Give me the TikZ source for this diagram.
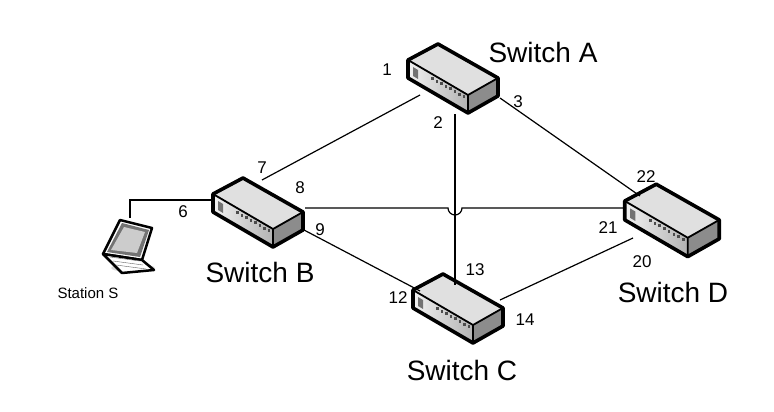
\documentclass[tikz,border=0pt]{standalone}
\usepackage{fontspec}
\setmainfont{Liberation Sans}
\begin{document}
\begin{tikzpicture}[x=1pt,y=-1pt,
  lbl/.style={font=\fontsize{28}{28}\selectfont},
  num/.style={font=\fontsize{17}{17}\selectfont},
  link/.style={line width=1.2pt},
  pics/switch/.style={code={
    \fill[white!88!black] (-45,-20)--(-15,-36)--(45,-2)--(15,15)--cycle;
    \shade[left color=white!95!black,right color=white!70!black] (-45,-20)--(15,15)--(15,33)--(-45,-2)--cycle;
    \fill[white!55!black] (15,15)--(45,-2)--(45,16)--(15,33)--cycle;
    \fill[white!45!black] (-40,-13)--(-35,-10)--(-35,-1)--(-40,-4)--cycle;
    \foreach \i in {0,...,7}{\fill[black!70] (-22+4.5*\i,-3+2.6*\i) rectangle ++(2.5,3);}
    \draw[line width=3.6pt,line join=round] (-45,-20)--(-15,-36)--(45,-2)--(45,16)--(15,33)--(-45,-2)--cycle;
    \draw[line width=1.8pt,line join=round] (-45,-20)--(15,15)--(45,-2) (15,15)--(15,33);
  }}]
\useasboundingbox (0,0) rectangle (774,412);
\pic (swA) at (453,80) {switch};
\pic (swB) at (258,214) {switch};
\pic (swC) at (458,310) {switch};
\pic[scale=1.05] (swD) at (672,222) {switch};
\coordinate (a1) at (420,95); \coordinate (a2) at (455,114); \coordinate (a3) at (500,98);
\coordinate (b7) at (262,180); \coordinate (b8) at (305,208); \coordinate (b9) at (304,230); \coordinate (b6) at (211,200);
\coordinate (c13) at (455,285); \coordinate (c12) at (420,291); \coordinate (c14) at (500,300);
\coordinate (d22) at (640,196); \coordinate (d21) at (626,208); \coordinate (d20) at (633,238);
\coordinate (hopL) at (448,208); \coordinate (hopR) at (462,208);
\coordinate (lap) at (130,218);
\draw[link] (a1)--(b7);
\draw[link] (a2)--(c13);
\draw[link] (a3)--(d22);
\draw[link] (b8)--(hopL) arc[start angle=180,end angle=0,radius=7] -- (d21);
\draw[link] (b9)--(c12);
\draw[link] (c14)--(d20);
\draw[link] (b6)--(130,200)--(lap);
% laptop
\begin{scope}[shift={(128,240)}]
\fill[black!15] (5,28) ellipse (22 and 4);
\draw[line width=2.5pt,fill=white,line join=round] (-25,14)--(-8,-20)--(24,-12)--(14,20)--cycle;
\fill[black!55] (-21,12)--(-6,-17)--(21,-10)--(12,17)--cycle;
\fill[white!80!black] (-17,10)--(-4,-13)--(17,-8)--(9,13)--cycle;
\draw[line width=2.5pt,fill=white,line join=round] (-25,14)--(14,20)--(26,30)--(-6,33)--cycle;
\foreach \k in {0,1,2}{\draw[black!60] (-18+3*\k,17+4*\k)--(12+3*\k,21+4*\k);}
\end{scope}
\node[lbl] (tA) at (543,52) {Switch A};
\node[lbl] (tB) at (260,272) {Switch B};
\node[lbl] (tC) at (462,370) {Switch C};
\node[lbl] (tD) at (673,292) {Switch D};
\node[font=\fontsize{15}{15}\selectfont] (tS) at (88,293) {Station S};
\node[num] (n1) at (387,70) {1};
\node[num] (n2) at (438,123) {2};
\node[num] (n3) at (518,102) {3};
\node[num] (n7) at (262,168) {7};
\node[num] (n8) at (300,188) {8};
\node[num] (n6) at (183,212) {6};
\node[num] (n9) at (320,230) {9};
\node[num] (n22) at (646,177) {22};
\node[num] (n21) at (608,228) {21};
\node[num] (n20) at (642,262) {20};
\node[num] (n13) at (475,270) {13};
\node[num] (n12) at (398,298) {12};
\node[num] (n14) at (525,320) {14};
\end{tikzpicture}
\end{document}
